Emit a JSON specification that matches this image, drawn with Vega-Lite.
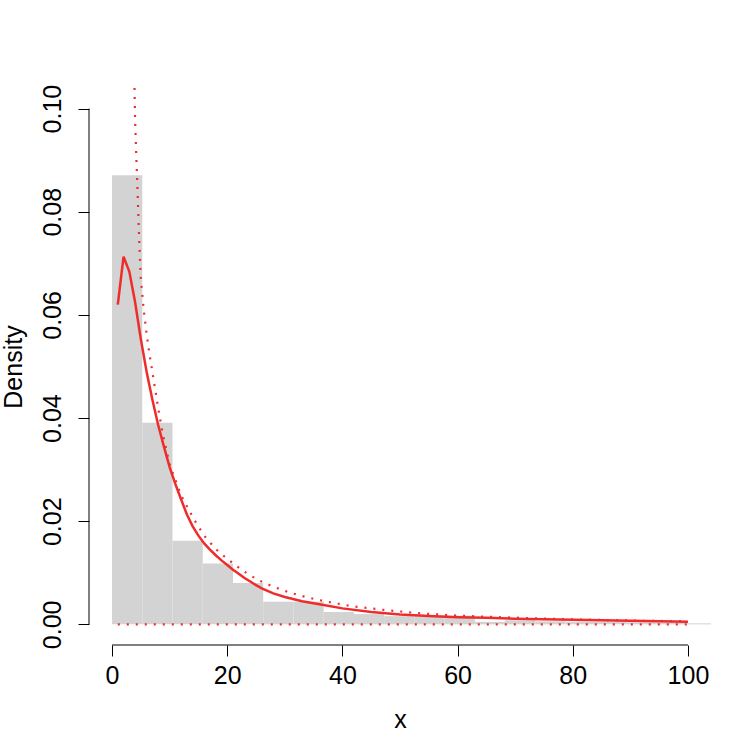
{
  "$schema": "https://vega.github.io/schema/vega-lite/v6.json",
  "width": 622,
  "height": 557,
  "autosize": {"type": "none"},
  "padding": {"left": 89, "top": 88, "right": 45, "bottom": 111},
  "background": "white",
  "config": {
    "view": {"stroke": null},
    "font": "Liberation Sans",
    "axis": {
      "grid": false,
      "domain": false,
      "tickColor": "black",
      "tickSize": 11,
      "tickWidth": 1,
      "labelColor": "black",
      "titleColor": "black",
      "labelFont": "Liberation Sans",
      "titleFont": "Liberation Sans",
      "labelFontSize": 25,
      "titleFontSize": 25,
      "titleFontWeight": "normal"
    }
  },
  "datasets": {
    "hist": [
      {"lo": 0, "hi": 5.25, "density": 0.0871},
      {"lo": 5.25, "hi": 10.5, "density": 0.0391},
      {"lo": 10.5, "hi": 15.75, "density": 0.0162},
      {"lo": 15.75, "hi": 21, "density": 0.0118},
      {"lo": 21, "hi": 26.25, "density": 0.0080},
      {"lo": 26.25, "hi": 31.5, "density": 0.0044},
      {"lo": 31.5, "hi": 36.75, "density": 0.0044},
      {"lo": 36.75, "hi": 42, "density": 0.0024},
      {"lo": 42, "hi": 47.25, "density": 0.0020},
      {"lo": 47.25, "hi": 52.5, "density": 0.0016},
      {"lo": 52.5, "hi": 57.75, "density": 0.0017},
      {"lo": 57.75, "hi": 63, "density": 0.0017},
      {"lo": 63, "hi": 68.25, "density": 0.0005},
      {"lo": 68.25, "hi": 73.5, "density": 0.0008},
      {"lo": 73.5, "hi": 78.75, "density": 0.0006},
      {"lo": 78.75, "hi": 84, "density": 0.0005},
      {"lo": 84, "hi": 89.25, "density": 0.0005},
      {"lo": 89.25, "hi": 94.5, "density": 0.0004},
      {"lo": 94.5, "hi": 99.75, "density": 0.0004},
      {"lo": 99.75, "hi": 105, "density": 0.0002}
    ],
    "fit": [
      {"x": 1, "y": 0.0620}, {"x": 2, "y": 0.0713}, {"x": 3, "y": 0.0684},
      {"x": 4, "y": 0.0625}, {"x": 5, "y": 0.0553}, {"x": 6, "y": 0.0490},
      {"x": 7, "y": 0.0436}, {"x": 8, "y": 0.0387}, {"x": 9, "y": 0.0345},
      {"x": 10, "y": 0.0305}, {"x": 11, "y": 0.0272}, {"x": 12, "y": 0.0242},
      {"x": 13, "y": 0.0213}, {"x": 14, "y": 0.0190}, {"x": 15, "y": 0.0172},
      {"x": 16, "y": 0.0157}, {"x": 17, "y": 0.0145}, {"x": 18, "y": 0.0134},
      {"x": 19, "y": 0.0124}, {"x": 20, "y": 0.0115}, {"x": 21, "y": 0.0106},
      {"x": 22, "y": 0.0098}, {"x": 23, "y": 0.0090}, {"x": 24, "y": 0.0083},
      {"x": 25, "y": 0.0076}, {"x": 26, "y": 0.0070}, {"x": 27, "y": 0.0065},
      {"x": 28, "y": 0.0060}, {"x": 30, "y": 0.0053},
      {"x": 33, "y": 0.0045}, {"x": 36, "y": 0.0039}, {"x": 40, "y": 0.0031},
      {"x": 45, "y": 0.0024}, {"x": 50, "y": 0.0019}, {"x": 55, "y": 0.0016},
      {"x": 60, "y": 0.0014}, {"x": 65, "y": 0.0013}, {"x": 70, "y": 0.0011},
      {"x": 75, "y": 0.0010}, {"x": 80, "y": 0.0009}, {"x": 85, "y": 0.0008},
      {"x": 90, "y": 0.0007}, {"x": 95, "y": 0.0006}, {"x": 100, "y": 0.0005}
    ],
    "theory": [
      {"x": 3.9, "y": 0.104}, {"x": 4.0, "y": 0.098}, {"x": 4.2, "y": 0.091},
      {"x": 4.4, "y": 0.085}, {"x": 4.7, "y": 0.075}, {"x": 5.0, "y": 0.067},
      {"x": 5.5, "y": 0.061}, {"x": 6.0, "y": 0.0563}, {"x": 6.5, "y": 0.0524},
      {"x": 7.0, "y": 0.049}, {"x": 7.5, "y": 0.0455}, {"x": 8.0, "y": 0.042},
      {"x": 8.8, "y": 0.037}, {"x": 10, "y": 0.031}, {"x": 12, "y": 0.025},
      {"x": 14.2, "y": 0.0204}, {"x": 16, "y": 0.0172}, {"x": 18, "y": 0.0146},
      {"x": 20, "y": 0.0127}, {"x": 22.6, "y": 0.0105}, {"x": 25.2, "y": 0.0087},
      {"x": 28, "y": 0.0073}, {"x": 31, "y": 0.0061}, {"x": 34, "y": 0.0052},
      {"x": 37.3, "y": 0.0044}, {"x": 41.8, "y": 0.0035}, {"x": 48, "y": 0.0027},
      {"x": 54, "y": 0.0021}, {"x": 60, "y": 0.0017}, {"x": 67, "y": 0.0014},
      {"x": 73, "y": 0.0012}, {"x": 79, "y": 0.0010}, {"x": 85, "y": 0.00085},
      {"x": 92, "y": 0.0007}, {"x": 100, "y": 0.0006}
    ]
  },
  "layer": [
    {
      "data": {"name": "hist"},
      "mark": {"type": "rect", "color": "#d3d3d3", "clip": true},
      "encoding": {
        "x": {
          "field": "lo", "type": "quantitative",
          "scale": {"domain": [-4, 104], "nice": false, "zero": false},
          "axis": {"values": [0, 20, 40, 60, 80, 100], "format": "d", "title": "x", "labelPadding": 7, "titlePadding": 19, "labelFlush": false}
        },
        "x2": {"field": "hi"},
        "y": {
          "field": "density", "type": "quantitative",
          "scale": {"domain": [-0.004, 0.104], "nice": false, "zero": false},
          "axis": {"values": [0, 0.02, 0.04, 0.06, 0.08, 0.1], "format": ".2f", "title": "Density", "labelAngle": -90, "labelAlign": "center", "labelBaseline": "bottom", "labelPadding": 13, "titlePadding": 14, "labelFlush": false}
        },
        "y2": {"datum": 0}
      }
    },
    {
      "data": {"name": "fit"},
      "mark": {"type": "line", "color": "#ee2c2c", "strokeWidth": 2.5, "clip": true},
      "encoding": {
        "x": {"field": "x", "type": "quantitative"},
        "y": {"field": "y", "type": "quantitative"}
      }
    },
    {
      "data": {"name": "theory"},
      "mark": {"type": "line", "color": "#ee2c2c", "strokeWidth": 2.2, "strokeDash": [2, 7], "clip": true},
      "encoding": {
        "x": {"field": "x", "type": "quantitative"},
        "y": {"field": "y", "type": "quantitative"}
      }
    },
    {
      "data": {"values": [{}]},
      "mark": {"type": "rule", "color": "#ee2c2c", "strokeWidth": 2.2, "strokeDash": [2, 7]},
      "encoding": {"x": {"datum": 1}, "x2": {"datum": 100}, "y": {"datum": 0}}
    },
    {
      "data": {"values": [{}]},
      "mark": {"type": "rule", "color": "black", "strokeWidth": 1},
      "encoding": {"x": {"datum": 0}, "x2": {"datum": 100}, "y": {"datum": -0.004}}
    },
    {
      "data": {"values": [{}]},
      "mark": {"type": "rule", "color": "black", "strokeWidth": 1},
      "encoding": {"y": {"datum": 0}, "y2": {"datum": 0.1}, "x": {"datum": -4}}
    }
  ]
}
